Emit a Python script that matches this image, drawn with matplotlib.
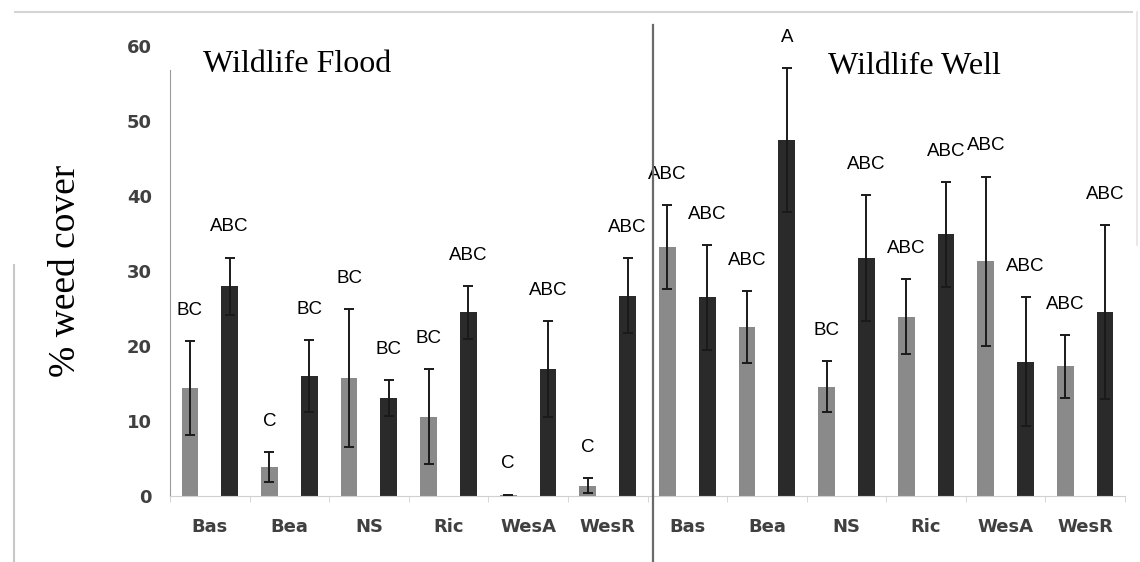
import numpy as np
import matplotlib.pyplot as plt
from matplotlib.lines import Line2D

# weed cover by site, grey = first treatment, black = second treatment
sites = ['Bas', 'Bea', 'NS', 'Ric', 'WesA', 'WesR']
panels = ['Wildlife Flood', 'Wildlife Well']

flood_grey = [14.4, 3.9, 15.7, 10.6, 0.2, 1.4]
flood_grey_err = [6.3, 2.0, 9.2, 6.3, 0.0, 1.0]
flood_black = [28.0, 16.0, 13.1, 24.5, 16.9, 26.7]
flood_black_err = [3.8, 4.8, 2.4, 3.5, 6.4, 5.0]

well_grey = [33.2, 22.5, 14.6, 23.9, 31.3, 17.3]
well_grey_err = [5.6, 4.8, 3.4, 5.0, 11.3, 4.2]
well_black = [26.5, 47.5, 31.7, 34.9, 17.9, 24.5]
well_black_err = [7.0, 9.6, 8.4, 7.0, 8.6, 11.6]

flood_grey_lab = ['BC', 'C', 'BC', 'BC', 'C', 'C']
flood_black_lab = ['ABC', 'BC', 'BC', 'ABC', 'ABC', 'ABC']
well_grey_lab = ['ABC', 'ABC', 'BC', 'ABC', 'ABC', 'ABC']
well_black_lab = ['ABC', 'A', 'ABC', 'ABC', 'ABC', 'ABC']

yticks = [0, 10, 20, 30, 40, 50, 60]

# interleave grey/black bars, flood panel first then well panel
vals, errs, labs, cols = [], [], [], []
for g, ge, b, be, gl, bl in [(flood_grey, flood_grey_err, flood_black, flood_black_err, flood_grey_lab, flood_black_lab),
                             (well_grey, well_grey_err, well_black, well_black_err, well_grey_lab, well_black_lab)]:
    for k in range(len(sites)):
        vals += [g[k], b[k]]
        errs += [ge[k], be[k]]
        labs += [gl[k], bl[k]]
        cols += ['#8a8a8a', '#2a2a2a']
x = np.arange(len(vals))

W, H = 1140, 562
fig = plt.figure(figsize=(W / 100, H / 100), dpi=100)
ax = fig.add_axes([170 / W, (H - 496) / H, (1125 - 170) / W, (496 - 46) / H])

ax.bar(x, vals, width=0.42, color=cols, zorder=2)
ax.errorbar(x, vals, yerr=errs, fmt='none', ecolor='#1a1a1a', elinewidth=1.4,
            capsize=3.8, capthick=1.4, zorder=3)

for xi, v, e, lab in zip(x, vals, errs, labs):
    ax.annotate(lab, (xi, v + e), xytext=(0, 16), textcoords='offset points',
                ha='center', va='bottom', fontsize=13.5, family='Liberation Sans', color='black')

ax.set_xlim(-0.5, len(vals) - 0.5)
ax.set_ylim(0, 60)
ax.set_yticks(yticks)
ax.set_yticklabels([str(t) for t in yticks], fontsize=13, fontweight='bold', color='#404040')
ax.tick_params(axis='y', length=0, pad=13)

ax.set_xticks(np.arange(0.5, len(vals), 2))
ax.set_xticklabels(sites * 2, fontsize=13, fontweight='bold', color='#404040')
ax.tick_params(axis='x', length=0, pad=16)
ax.set_xticks(np.arange(-0.5, len(vals), 2), minor=True)
ax.tick_params(axis='x', which='minor', length=4, color='#d0d0d0')

for s in ['top', 'right']:
    ax.spines[s].set_visible(False)
ax.spines['left'].set_color('#9a9a9a')
ax.spines['left'].set_bounds(0, 56.8)
ax.spines['bottom'].set_color('#d0d0d0')

ax.set_ylabel('% weed cover', fontsize=27, family='Liberation Serif')
ax.yaxis.set_label_coords((83 - 170) / (1125 - 170), 0.5)

# panel titles and the divider between them
ax.text(203 / W, 1 - 65 / H, panels[0], transform=fig.transFigure, fontsize=23,
        family='Liberation Serif', va='center', ha='left')
ax.text(828 / W, 1 - 66 / H, panels[1], transform=fig.transFigure, fontsize=23,
        family='Liberation Serif', va='center', ha='left')
fig.add_artist(Line2D([653 / W, 653 / W], [0, 1 - 25 / H], color='#6a6a6a', lw=1.6))

# light frame around the chart
fig.add_artist(Line2D([15 / W, 1132 / W], [1 - 12 / H, 1 - 12 / H], color='#d4d4d4', lw=1.5))
fig.add_artist(Line2D([14 / W, 14 / W], [0, 1 - 265 / H], color='#c8c8c8', lw=1.5))
fig.add_artist(Line2D([1137 / W, 1137 / W], [1 - 12 / H, 1 - 245 / H], color='#e4e4e4', lw=1.2))

fig.savefig('out.png', dpi=100)
